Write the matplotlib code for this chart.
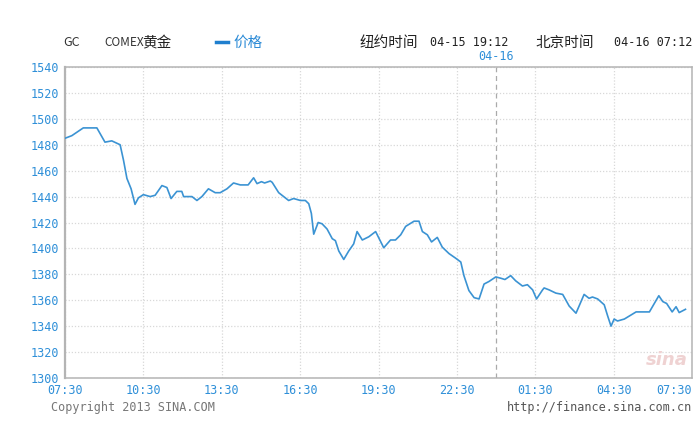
import matplotlib
matplotlib.use("Agg")
import matplotlib.pyplot as plt

# hours since 07:30 (04-15 NY chart window) and COMEX gold price
hours = [0.00, 0.26, 0.70, 1.22, 1.53, 1.79, 2.11, 2.24, 2.37, 2.53,
         2.68, 2.81, 3.00, 3.26, 3.45, 3.71, 3.90, 4.06, 4.28, 4.47,
         4.54, 4.86, 5.05, 5.24, 5.49, 5.75, 5.94, 6.20, 6.45, 6.71,
         7.01, 7.22, 7.35, 7.52, 7.64, 7.86, 7.93, 8.18, 8.37, 8.56,
         8.75, 9.01, 9.20, 9.33, 9.43, 9.52, 9.69, 9.84, 10.03, 10.23,
         10.35, 10.48, 10.67, 10.86, 11.05, 11.18, 11.38, 11.63, 11.89, 12.20,
         12.46, 12.65, 12.85, 13.04, 13.36, 13.55, 13.68, 13.87, 14.03, 14.25,
         14.44, 14.70, 14.95, 15.15, 15.27, 15.46, 15.66, 15.85, 16.04, 16.23,
         16.49, 16.68, 16.84, 17.06, 17.25, 17.51, 17.70, 17.90, 18.05, 18.28,
         18.34, 18.53, 18.79, 19.05, 19.30, 19.56, 19.87, 20.06, 20.19, 20.39,
         20.64, 20.77, 20.90, 21.02, 21.15, 21.41, 21.86, 22.37, 22.73, 22.88,
         23.03, 23.24, 23.39, 23.51, 23.75]
prices = [1485, 1487, 1493, 1493, 1482, 1483, 1480, 1468, 1454, 1446,
          1434, 1439, 1441.5, 1440, 1441, 1448.5, 1447, 1438.5, 1444, 1444,
          1440, 1440, 1437, 1440, 1446, 1443, 1443, 1446, 1450.5, 1449,
          1449, 1454.5, 1450, 1451.5, 1450.5, 1452, 1451, 1443, 1440, 1437,
          1438.5, 1437, 1437, 1434.5, 1427, 1411, 1420, 1419, 1415, 1407.5,
          1406, 1398, 1391.5, 1398, 1403.5, 1413, 1406.5, 1409, 1413, 1400.5,
          1406.5, 1406.5, 1410.5, 1417, 1421, 1421, 1413, 1410.5, 1405, 1408.5,
          1401, 1396, 1392.5, 1389.5, 1379, 1367.5, 1362, 1361, 1372.5, 1374.5,
          1378, 1377, 1376, 1379, 1375, 1371, 1372, 1368, 1361, 1368,
          1369.5, 1368, 1365.5, 1364.5, 1355.5, 1350, 1364.5, 1361.5, 1362.5, 1361,
          1356.5, 1348, 1340, 1345.5, 1344, 1345.5, 1351, 1351, 1363.5, 1359,
          1357.5, 1351, 1355, 1350.5, 1353]

x_ticks = [0, 3, 6, 9, 12, 15, 18, 21, 24]
x_labels = ["07:30", "10:30", "13:30", "16:30", "19:30", "22:30", "01:30", "04:30", "07:30"]
y_ticks = list(range(1300, 1541, 20))
midnight = 16.5  # 04-16 00:00

blue = "#2e8fd8"
line_blue = "#3b93d3"
mono = "DejaVu Sans Mono"
cjk = ["Noto Sans CJK SC", "DejaVu Sans"]

fig = plt.figure(figsize=(7, 4.43), dpi=100)
ax = fig.add_axes([65 / 700, 1 - 378 / 443, 627 / 700, 311 / 443])

ax.plot(hours, prices, color=line_blue, lw=1.2, zorder=3)

# day separator
ax.axvline(midnight, color="#aaaaaa", lw=0.9, ls=(0, (4, 3)), zorder=2)
ax.text(midnight, 1543, "04-16", color=blue, fontsize=8.5, family=mono,
        ha="center", va="bottom")

ax.set_xlim(0, 24)
ax.set_ylim(1300, 1540)
ax.set_xticks(x_ticks)
ax.set_xticklabels(x_labels)
ax.set_yticks(y_ticks)
ax.grid(True, color="#d8d8d8", lw=0.9, ls=(0, (1, 1.5)))
ax.set_axisbelow(True)
ax.tick_params(length=0, labelcolor=blue, labelsize=8.5, pad=4)
for lab in ax.get_xticklabels() + ax.get_yticklabels():
    lab.set_family(mono)
ax.get_xticklabels()[-1].set_ha("right")

for side in ["left", "right", "top", "bottom"]:
    ax.spines[side].set_color("#b4b4b4")
    ax.spines[side].set_linewidth(1.1)
ax.spines["left"].set_linewidth(1.6)

# header
fig.text(63 / 700, 1 - 43 / 443, "GC", fontsize=9, color="#333333",
         family=cjk, va="center")
fig.text(104 / 700, 1 - 43 / 443, "COMEX", fontsize=8.5, color="#333333",
         family=cjk, va="center")
fig.text(142 / 700, 1 - 43 / 443, "黄金", fontsize=10.5, color="#222222",
         family=cjk, va="center")
fig.add_artist(plt.Line2D([216 / 700, 228 / 700], [1 - 42 / 443, 1 - 42 / 443],
                          color="#1f7fce", lw=2.5))
fig.text(233 / 700, 1 - 43 / 443, "价格", fontsize=10.5, color="#2a8ad6",
         family=cjk, va="center")
fig.text(360 / 700, 1 - 43 / 443, "纽约时间", fontsize=10.5, color="#222222",
         family=cjk, va="center")
fig.text(430 / 700, 1 - 43 / 443, "04-15 19:12", fontsize=8.5, color="#222222",
         family=mono, va="center")
fig.text(535 / 700, 1 - 43 / 443, "北京时间", fontsize=10.5, color="#222222",
         family=cjk, va="center")
fig.text(692 / 700, 1 - 43 / 443, "04-16 07:12", fontsize=8.5, color="#222222",
         family=mono, va="center", ha="right")

# footer
fig.text(51 / 700, 1 - 407 / 443, "Copyright 2013 SINA.COM", fontsize=8.5,
         color="#777777", family=mono, va="center")
fig.text(692 / 700, 1 - 407 / 443, "http://finance.sina.com.cn", fontsize=8.5,
         color="#555555", family=mono, va="center", ha="right")

# watermark
ax.text(0.993, 0.03, "sina", transform=ax.transAxes, fontsize=13,
        fontweight="bold", style="italic", color="#efd2d2", ha="right",
        va="bottom", zorder=1)

fig.savefig("out.png", dpi=100, facecolor="white")
